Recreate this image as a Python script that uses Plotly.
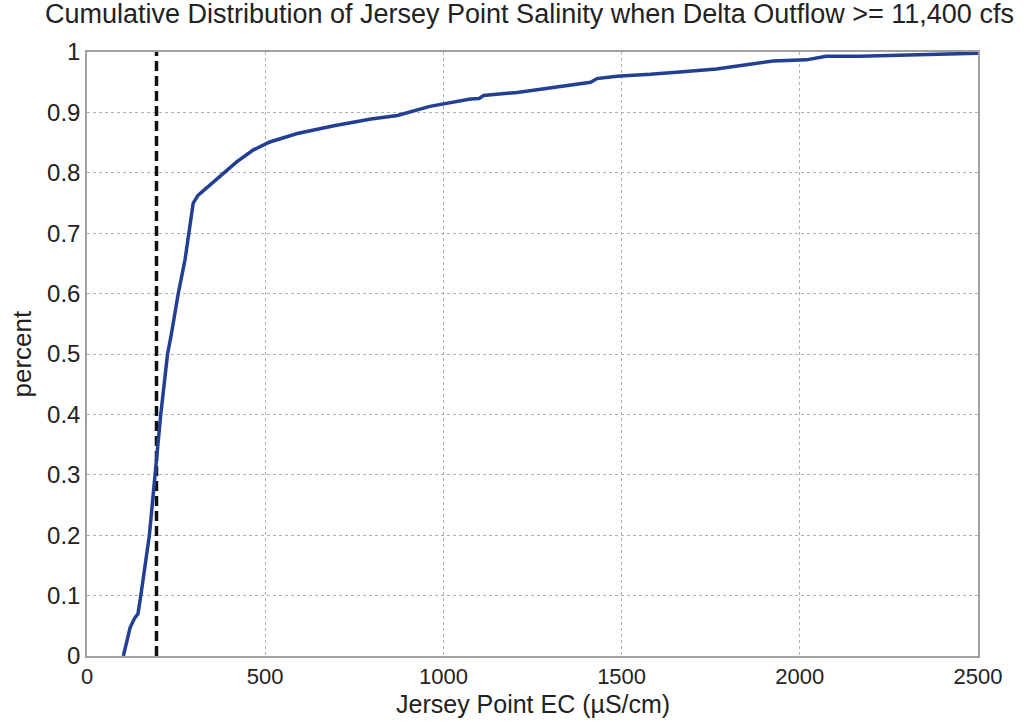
import plotly.graph_objects as go

ec = [102, 112, 121, 133, 143, 151, 163, 175, 183, 190, 199, 207, 216, 226, 237,
      256, 275, 289, 298, 312, 345, 382, 420, 467, 513, 590, 693, 797, 871, 962,
      1000, 1076, 1100, 1113, 1207, 1319, 1413, 1431, 1487, 1580, 1635, 1663, 1766,
      1832, 1925, 2018, 2074, 2168, 2280, 2420, 2500]
pct = [0, 0.025, 0.047, 0.062, 0.07, 0.1, 0.15, 0.2, 0.25, 0.3, 0.35, 0.4, 0.45, 0.5,
       0.534, 0.6, 0.656, 0.716, 0.75, 0.763, 0.78, 0.799, 0.818, 0.838, 0.851, 0.865,
       0.878, 0.889, 0.895, 0.91, 0.914, 0.922, 0.923, 0.928, 0.933, 0.943, 0.95, 0.956,
       0.96, 0.963, 0.965, 0.967, 0.972, 0.977, 0.985, 0.987, 0.993, 0.993, 0.995,
       0.998, 0.998]

threshold_x = [195, 195]
threshold_y = [0, 1]

x_ticks = [0, 500, 1000, 1500, 2000, 2500]
y_ticks = [0, 0.1, 0.2, 0.3, 0.4, 0.5, 0.6, 0.7, 0.8, 0.9, 1]
y_tick_text = ["0", "0.1", "0.2", "0.3", "0.4", "0.5", "0.6", "0.7", "0.8", "0.9", "1"]

font = "Liberation Sans, Arial, sans-serif"

fig = go.Figure()
fig.add_trace(go.Scatter(x=threshold_x, y=threshold_y, mode="lines",
                         line=dict(color="#111111", width=3.5, dash="10px,5px"),
                         showlegend=False))
fig.add_trace(go.Scatter(x=ec, y=pct, mode="lines",
                         line=dict(color="#233f94", width=3.5),
                         showlegend=False))

fig.update_layout(
    width=1024, height=721,
    margin=dict(l=87, r=46, t=52, b=65),
    paper_bgcolor="white", plot_bgcolor="white",
    font=dict(family=font, color="#222222"),
    title=dict(text="Cumulative Distribution of Jersey Point Salinity when Delta Outflow >= 11,400 cfs",
               x=0.517, xanchor="center", y=0.981, yanchor="middle",
               font=dict(size=27, family=font, color="#222222")),
    annotations=[
        dict(text="Jersey Point EC (µS/cm)", xref="paper", yref="paper",
             x=0.5, y=-0.08, xanchor="center", yanchor="middle", showarrow=False,
             font=dict(size=25, family=font, color="#222222")),
        dict(text="percent", xref="paper", yref="paper", textangle=-90,
             x=-0.0735, y=0.5, xanchor="center", yanchor="middle", showarrow=False,
             font=dict(size=26, family=font, color="#222222")),
    ],
)
fig.update_xaxes(range=[0, 2500], tickvals=x_ticks, ticktext=[str(v) for v in x_ticks],
                 showgrid=True, gridcolor="#b0b0b0", griddash="dot", gridwidth=1,
                 showline=True, linecolor="#a0a0a0", linewidth=1.5, mirror=True,
                 zeroline=False, ticks="", tickfont=dict(size=22))
fig.update_yaxes(range=[0, 1], tickvals=y_ticks, ticktext=y_tick_text,
                 showgrid=True, gridcolor="#b0b0b0", griddash="dot", gridwidth=1,
                 showline=True, linecolor="#a0a0a0", linewidth=1.5, mirror=True,
                 zeroline=False, ticks="", tickfont=dict(size=24))

fig.write_html("out.html")
